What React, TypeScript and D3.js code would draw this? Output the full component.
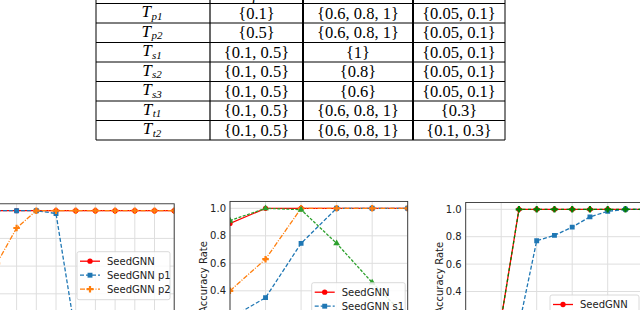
import * as d3 from "d3";

// ---- table data ----
const settings = ["p1", "p2", "s1", "s2", "s3", "t1", "t2"];
const colA = ["{0.1}", "{0.5}", "{0.1, 0.5}", "{0.1, 0.5}", "{0.1, 0.5}", "{0.1, 0.5}", "{0.1, 0.5}"];
const colB = ["{0.6, 0.8, 1}", "{0.6, 0.8, 1}", "{1}", "{0.8}", "{0.6}", "{0.6, 0.8, 1}", "{0.6, 0.8, 1}"];
const colC = ["{0.05, 0.1}", "{0.05, 0.1}", "{0.05, 0.1}", "{0.05, 0.1}", "{0.05, 0.1}", "{0.3}", "{0.1, 0.3}"];

// ---- chart data ----
const c1Steps = [0, 1, 2, 3, 4, 5, 6, 7, 8, 9];
const c1Seed = [1, 1, 1, 1, 1, 1, 1, 1, 1, 1];
const c1P1 = [1, 1, 1, 0.98, 0.1, 0.04, 0.02, 0.01, 0, 0];
const c1P2 = [0.62, 0.875, 1, 1, 1, 1, 1, 1, 1, 1];

const c2Steps = [0, 1, 2, 3, 4, 5];
const c2Seed = [0.89, 1, 1, 1, 1, 1];
const c2S1 = [0.2, 0.35, 0.745, 1, 1, 1];
const c2S2 = [0.4, 0.63, 1, 1, 1, 1];
const c2S3 = [0.91, 1, 0.99, 0.745, 0.46, 0.2];

const c3Steps = [0, 1, 2, 3, 4, 5, 6, 7, 8, 9, 10];
const c3Seed = [0, 0, 0.2, 1, 1, 1, 1, 1, 1, 1, 1];
const c3T1 = [0, 0, 0, 0.15, 0.77, 0.81, 0.87, 0.945, 0.985, 1, 1];
const c3T2 = [0, 0, 0.2, 1, 1, 1, 1, 1, 1, 1, 1];

const yTicks = [0, 0.2, 0.4, 0.6, 0.8, 1.0];

const RED = "#ff0000";
const BLUE = "#1f77b4";
const ORANGE = "#ff7f0e";
const GREEN = "#2ca02c";
const DKGREEN = "#008000";

type Series = {
  name: string;
  values: number[];
  color: string;
  dash: string;
  marker: d3.SymbolType;
  size: number;
};

type ChartProps = {
  id: string;
  steps: number[];
  series: Series[];
  left: number;
  right: number;
  y1: number; // pixel of value 1.0
  unit: number; // px per 1.0
  gridEvery: number;
  yLabels: boolean;
  ylabX?: number;
  legend: { x: number; y: number; w: number };
};

const sansFont = "DejaVu Sans, sans-serif";
const fs = 10;

function Chart({ id, steps, series, left, right, y1, unit, gridEvery, yLabels, ylabX, legend }: ChartProps) {
  const x = d3.scaleLinear().domain([steps[0], steps[steps.length - 1]]).range([left, right]);
  const y = d3.scaleLinear().domain([0, 1]).range([y1 + unit, y1]);
  const top = y(1.05);
  const bottom = y(-0.05);
  const gridX = steps.filter((s) => s % gridEvery === 0);
  const rowH = 14;
  const legendH = 6 + series.length * rowH;

  return (
    <g>
      <defs>
        <clipPath id={id}>
          <rect x={left} y={top} width={right - left} height={bottom - top} />
        </clipPath>
      </defs>
      <rect x={left} y={top} width={right - left} height={bottom - top} fill="#fff" />
      {gridX.map((s) => (
        <line key={"gx" + s} x1={x(s)} x2={x(s)} y1={top} y2={bottom} stroke="#dedede" strokeWidth={1} />
      ))}
      {yTicks.map((t) => (
        <line key={"gy" + t} x1={left} x2={right} y1={y(t)} y2={y(t)} stroke="#dedede" strokeWidth={1} />
      ))}
      <g clipPath={`url(#${id})`}>
        {series.map((s) => {
          const path = d3
            .line<number>()
            .x((_, i) => x(steps[i]))
            .y((d) => y(d))(s.values);
          const sym = d3.symbol().type(s.marker).size(s.size)();
          return (
            <g key={s.name}>
              <path d={path ?? ""} fill="none" stroke={s.color} strokeWidth={1.3} strokeDasharray={s.dash} />
              {s.values.map((v, i) => (
                <path key={i} d={sym ?? ""} transform={`translate(${x(steps[i])},${y(v)})`} fill={s.color} />
              ))}
            </g>
          );
        })}
      </g>
      <rect x={left} y={top} width={right - left} height={bottom - top} fill="none" stroke="#333" strokeWidth={0.9} />
      {yLabels &&
        yTicks.map((t) => (
          <text
            key={"yl" + t}
            x={left - 4}
            y={y(t)}
            dy="0.35em"
            textAnchor="end"
            fontSize={fs}
            fontFamily={sansFont}
            fill="#222"
          >
            {t.toFixed(1)}
          </text>
        ))}
      {yLabels && ylabX !== undefined && (
        <text
          transform={`translate(${ylabX},${(top + bottom) / 2}) rotate(-90)`}
          textAnchor="middle"
          fontSize={fs}
          fontFamily={sansFont}
          fill="#222"
        >
          Accuracy Rate
        </text>
      )}
      {/* legend */}
      <rect
        x={legend.x}
        y={legend.y}
        width={legend.w}
        height={legendH}
        rx={2}
        fill="#fff"
        fillOpacity={0.85}
        stroke="#d0d0d0"
        strokeWidth={0.8}
      />
      {series.map((s, i) => {
        const ry = legend.y + 9.5 + i * rowH;
        const sym = d3.symbol().type(s.marker).size(s.size)();
        return (
          <g key={"lg" + s.name}>
            <line
              x1={legend.x + 3}
              x2={legend.x + 23}
              y1={ry}
              y2={ry}
              stroke={s.color}
              strokeWidth={1.3}
              strokeDasharray={s.dash}
            />
            <path d={sym ?? ""} transform={`translate(${legend.x + 13},${ry})`} fill={s.color} />
            <text
              x={legend.x + 30}
              y={ry}
              dy="0.35em"
              fontSize={fs}
              fontFamily={sansFont}
              fill="#222"
            >
              {s.name}
            </text>
          </g>
        );
      })}
    </g>
  );
}

function Table() {
  const cols = [96, 210, 303, 413, 505];
  const rows = d3.scaleBand<string>().domain(settings).range([3.5, 140]);
  const serif = "Liberation Serif, Times New Roman, serif";
  const centers = cols.slice(0, 4).map((c, i) => (c + cols[i + 1]) / 2);
  const colWidths = [1, 1.2, 2, 2, 1];
  return (
    <g>
      <line x1={cols[0]} x2={cols[4]} y1={3.5} y2={3.5} stroke="#000" strokeWidth={1} />
      {settings.map((s) => (
        <line
          key={"r" + s}
          x1={cols[0]}
          x2={cols[4]}
          y1={(rows(s) ?? 0) + rows.bandwidth()}
          y2={(rows(s) ?? 0) + rows.bandwidth()}
          stroke="#000"
          strokeWidth={1}
        />
      ))}
      {cols.map((c, i) => (
        <line key={"c" + i} x1={c} x2={c} y1={0} y2={140} stroke="#000" strokeWidth={colWidths[i]} />
      ))}
      {/* header row, mostly cut off */}
      <text x={centers[1]} y={-0.5} textAnchor="middle" fontFamily={serif} fontStyle="italic" fontSize={16.5}>
        p
      </text>
      {settings.map((s, i) => {
        const cy = (rows(s) ?? 0) + rows.bandwidth() / 2;
        return (
          <g key={"t" + s} fontFamily={serif} fontSize={16.5} fill="#000">
            <text x={centers[0] - 1} y={cy + 4} textAnchor="middle">
              <tspan fontStyle="italic" fontSize={17}>
                T
              </tspan>
              <tspan fontStyle="italic" fontSize={11} dx={0.5} dy={2.5}>
                {s}
              </tspan>
            </text>
            <text x={centers[1]} y={cy} dy="0.33em" textAnchor="middle">
              {colA[i]}
            </text>
            <text x={centers[2]} y={cy} dy="0.33em" textAnchor="middle">
              {colB[i]}
            </text>
            <text x={centers[3]} y={cy} dy="0.33em" textAnchor="middle">
              {colC[i]}
            </text>
          </g>
        );
      })}
    </g>
  );
}

export default function App() {
  const s1: Series[] = [
    { name: "SeedGNN", values: c1Seed, color: RED, dash: "", marker: d3.symbolCircle, size: 22 },
    { name: "SeedGNN p1", values: c1P1, color: BLUE, dash: "4,2", marker: d3.symbolSquare, size: 24 },
    { name: "SeedGNN p2", values: c1P2, color: ORANGE, dash: "5,1.5,1,1.5", marker: d3.symbolCross, size: 24 },
  ];
  const s2: Series[] = [
    { name: "SeedGNN", values: c2Seed, color: RED, dash: "", marker: d3.symbolCircle, size: 22 },
    { name: "SeedGNN s1", values: c2S1, color: BLUE, dash: "4,2", marker: d3.symbolSquare, size: 24 },
    { name: "SeedGNN s2", values: c2S2, color: ORANGE, dash: "5,1.5,1,1.5", marker: d3.symbolCross, size: 24 },
    { name: "SeedGNN s3", values: c2S3, color: GREEN, dash: "3,1.5", marker: d3.symbolTriangle, size: 20 },
  ];
  const s3: Series[] = [
    { name: "SeedGNN", values: c3Seed, color: RED, dash: "", marker: d3.symbolCircle, size: 22 },
    { name: "SeedGNN t1", values: c3T1, color: BLUE, dash: "4,2", marker: d3.symbolSquare, size: 24 },
    { name: "SeedGNN t2", values: c3T2, color: DKGREEN, dash: "3,2.5", marker: d3.symbolCross, size: 24 },
  ];
  return (
    <svg
      width={640}
      height={310}
      style={{ position: "absolute", left: 0, top: 0, background: "#fff" }}
    >
      <rect width={640} height={310} fill="#fff" />
      <Table />
      <Chart
        id="c1"
        steps={c1Steps}
        series={s1}
        left={-3.1}
        right={174.2}
        y1={210.7}
        unit={138.5}
        gridEvery={1}
        yLabels={false}
        legend={{ x: 77, y: 251.7, w: 93 }}
      />
      <Chart
        id="c2"
        steps={c2Steps}
        series={s2}
        left={230}
        right={407.7}
        y1={208.3}
        unit={137.5}
        gridEvery={1}
        yLabels={true}
        ylabX={206.5}
        legend={{ x: 311.7, y: 282.7, w: 93.5 }}
      />
      <Chart
        id="c3"
        steps={c3Steps}
        series={s3}
        left={465.7}
        right={643.2}
        y1={209.3}
        unit={137}
        gridEvery={2}
        yLabels={true}
        ylabX={443}
        legend={{ x: 550, y: 295, w: 89 }}
      />
    </svg>
  );
}
